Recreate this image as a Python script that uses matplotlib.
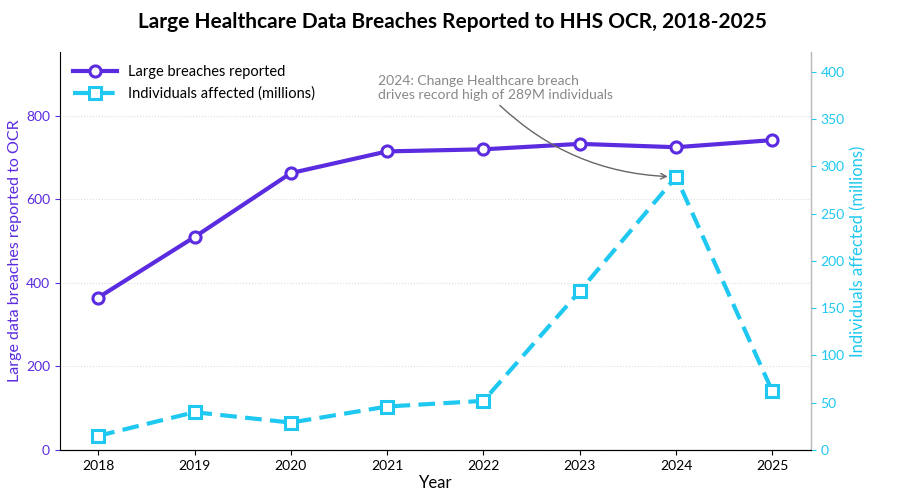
import matplotlib.pyplot as plt

years = [2018, 2019, 2020, 2021, 2022, 2023, 2024, 2025]
breaches = [365, 510, 663, 715, 720, 733, 725, 742]
individuals = [15, 40, 29, 46, 52, 168, 289, 62]

purple = '#5b2be0'
cyan = '#1ec8f0'
plt.rcParams['font.family'] = ['Lato', 'DejaVu Sans']

fig = plt.figure(figsize=(9.05, 5.0), dpi=100)
ax = fig.add_axes([0.066, 0.10, 0.83, 0.796])
ax2 = ax.twinx()

l1, = ax.plot(years, breaches, color=purple, lw=3, marker='o', ms=8,
              mfc='white', mec=purple, mew=2.2, label='Large breaches reported', zorder=3)
l2, = ax2.plot(years, individuals, color=cyan, lw=3, ls='--', dashes=(4, 2), marker='s', ms=8,
               mfc='white', mec=cyan, mew=2.2, label='Individuals affected (millions)')

ax.set_ylim(0, 953)
ax2.set_ylim(0, 421)
ax.set_xlim(2017.6, 2025.4)
ax.set_yticks([0, 200, 400, 600, 800])
ax2.set_yticks(range(0, 401, 50))
ax.set_xticks(years)
ax.grid(axis='y', ls=':', color='#dddddd')

ax.tick_params(axis='y', colors=purple, labelsize=10)
ax2.tick_params(axis='y', colors=cyan, labelsize=10)
ax.tick_params(axis='x', labelsize=10)
ax.set_ylabel('Large data breaches reported to OCR', color=purple, fontsize=11.5, labelpad=3)
ax2.set_ylabel('Individuals affected (millions)', color=cyan, fontsize=12)
ax.set_xlabel('Year', fontsize=12, labelpad=2)

for a in (ax, ax2):
    a.spines['top'].set_visible(False)
ax2.spines['right'].set_color('#bbbbbb')
ax2.spines['left'].set_visible(False)

ax2.annotate('2024: Change Healthcare breach\ndrives record high of 289M individuals',
             xy=(2024, 289), xytext=(2020.9, 397), color='#888888', fontsize=10,
             va='top', ha='left',
             arrowprops=dict(arrowstyle='->', color='#666666', lw=1, relpos=(0.5, 0),
                             shrinkA=2, shrinkB=6,
                             connectionstyle='arc3,rad=0.2'))

ax.legend([l1, l2], [l1.get_label(), l2.get_label()], loc='upper left',
          frameon=False, fontsize=10.5, handlelength=3)

fig.suptitle('Large Healthcare Data Breaches Reported to HHS OCR, 2018-2025',
             fontsize=15, fontweight='bold', y=0.975)
fig.savefig('out.png', dpi=100)
